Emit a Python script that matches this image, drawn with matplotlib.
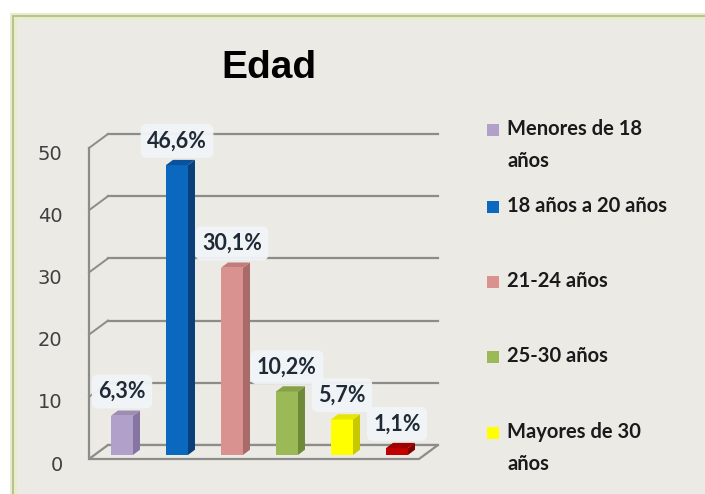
import matplotlib
matplotlib.use("Agg")
import matplotlib.pyplot as plt
from matplotlib.patches import Polygon, Rectangle
from matplotlib.transforms import ScaledTranslation
import numpy as np

# data
categories = ["Menores de 18\naños", "18 años a 20 años", "21-24 años",
              "25-30 años", "Mayores de 30\naños", "Otros"]
values = [6.3, 46.6, 30.1, 10.2, 5.7, 1.1]
labels = ["6,3%", "46,6%", "30,1%", "10,2%", "5,7%", "1,1%"]
yticks = [0, 10, 20, 30, 40, 50]
legend_count = 5  # the sixth entry is cut off in the original

front_colors = ["#B1A0C9", "#0A68BF", "#DA9291", "#9BB957", "#FFFF00", "#C00000"]
side_colors = ["#8575A0", "#0A3F7A", "#A86B6A", "#6E8A38", "#C8C800", "#800000"]
top_colors = ["#9C8CB6", "#0B529C", "#C27C7B", "#85A248", "#E6E600", "#A00000"]

BG = "#ECEAE4"
GRID = "#8C8C8A"

W, H = 705, 494
fig = plt.figure(figsize=(W / 100, H / 100), dpi=100)
fig.patch.set_facecolor("white")

# chart frame with the pale green border
fig.patches.append(Rectangle((13 / W, -0.1), 1.1, 1.1 - 16 / H,
                             transform=fig.transFigure, facecolor=BG,
                             edgecolor="#E6EEC8", lw=5, zorder=-3))
fig.patches.append(Rectangle((13 / W, -0.1), 1.1, 1.1 - 16 / H,
                             transform=fig.transFigure, facecolor="none",
                             edgecolor="#B6BE8E", lw=1.3, zorder=-2))

# pseudo-3d geometry (fractions of a category / value unit)
n = len(values)
DX, DY = 0.345, 2.25      # floor depth offset
F = 0.29                  # depth at which the bars stand
HW, BDX, BDY = 0.2, 0.127, 0.84

x0 = -0.5 - F * DX
x1 = n - 0.5 - F * DX
ax = fig.add_axes([89 / W, 35 / H, 330 / W, 311 / H])
ax.set_xlim(x0, x1)
ax.set_ylim(0, 50)
ax.patch.set_visible(False)
for s in ax.spines.values():
    s.set_visible(False)
ax.set_xticks([])
ax.set_yticks(yticks)
ax.set_yticklabels([str(t) for t in yticks], fontsize=14, color="#404040",
                   family="DejaVu Sans")
ax.tick_params(axis="y", length=0, pad=19)
# the original's labels sit a few pixels below their gridlines
shift = ScaledTranslation(0, -4 / 100, fig.dpi_scale_trans)
for lab in ax.get_yticklabels():
    lab.set_transform(lab.get_transform() + shift)

# back wall gridlines, left wall
for t in yticks:
    ax.plot([x0 + DX, x1 + DX], [t + DY, t + DY], color=GRID, lw=1.6,
            clip_on=False, zorder=1)
    if t > 0:
        ax.plot([x0, x0 + DX], [t, t + DY], color=GRID, lw=1.4,
                clip_on=False, zorder=1)
ax.plot([x0, x0], [0, yticks[-1]], color=GRID, lw=1.6, clip_on=False, zorder=1)

# floor
floor = [(x0, 0), (x1, 0), (x1 + DX, DY), (x0 + DX, DY)]
ax.add_patch(Polygon(floor, closed=True, facecolor=BG, edgecolor=GRID,
                     lw=1.6, clip_on=False, zorder=2))

base = F * DY
for i, v in enumerate(values):
    top = base + v
    front = [(i - HW, base), (i + HW, base), (i + HW, top), (i - HW, top)]
    side = [(i + HW, base), (i + HW + BDX, base + BDY),
            (i + HW + BDX, top + BDY), (i + HW, top)]
    lid = [(i - HW, top), (i + HW, top), (i + HW + BDX, top + BDY),
           (i - HW + BDX, top + BDY)]
    ax.add_patch(Polygon(side, closed=True, facecolor=side_colors[i],
                         edgecolor="none", clip_on=False, zorder=3))
    ax.add_patch(Polygon(front, closed=True, facecolor=front_colors[i],
                         edgecolor="none", clip_on=False, zorder=3))
    ax.add_patch(Polygon(lid, closed=True, facecolor=top_colors[i],
                         edgecolor="none", clip_on=False, zorder=3))
    ax.text(i, top + 3.9, labels[i], ha="center", va="center", fontsize=15.5,
            fontweight="bold", color="#1F2A36", family="Lato", zorder=5,
            clip_on=False,
            bbox=dict(boxstyle="round,pad=0.3", fc="#F1F5F8", ec="none",
                      alpha=0.95))

# title
fig.text(269 / W, 1 - 68 / H, "Edad", ha="center", va="center", fontsize=28,
         fontweight="bold", family="Liberation Sans", color="black")

# legend, spaced the way the original lays it out
legend_y = [130, 207, 282, 357, 433]
for k in range(legend_count):
    yc = 1 - legend_y[k] / H
    fig.patches.append(Rectangle((487 / W, yc - 6 / H), 12 / W, 12 / H,
                                 transform=fig.transFigure,
                                 facecolor=front_colors[k], edgecolor="none",
                                 zorder=3))
    fig.text(507 / W, yc + 11 / H, categories[k], ha="left", va="top",
             fontsize=14.5, fontweight="bold", family="Lato", color="#1A1A1A",
             linespacing=1.75)

fig.savefig("out.png", dpi=100, facecolor="white")
